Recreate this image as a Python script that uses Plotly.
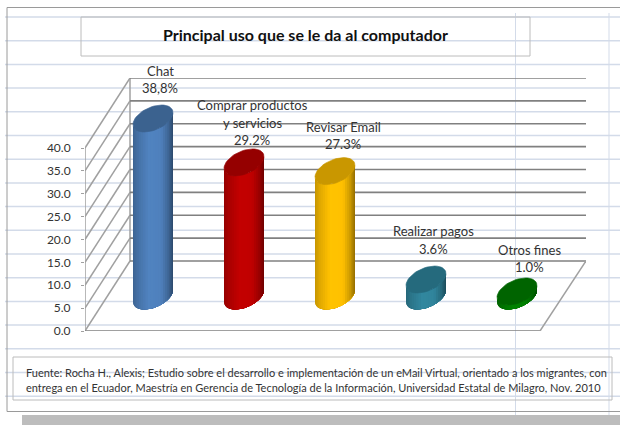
import math
import plotly.graph_objects as go

# ---------- data ----------
categories = ["Chat", "Comprar productos y servicios", "Revisar Email", "Realizar pagos", "Otros fines"]
values = [38.8, 29.2, 27.3, 3.6, 1.0]
value_labels = ["38,8%", "29.2%", "27.3%", "3.6%", "1.0%"]
label_lines = [["Chat"], ["Comprar productos", "y servicios"], ["Revisar Email"], ["Realizar pagos"], ["Otros fines"]]
tick_values = [0, 5, 10, 15, 20, 25, 30, 35, 40]
title_text = "Principal uso que se le da al computador"
source_lines = [
    "Fuente: Rocha H., Alexis; Estudio sobre el desarrollo e implementación de un eMail Virtual, orientado a los migrantes, con",
    "entrega en el Ecuador, Maestría en Gerencia de Tecnología de la Información, Universidad Estatal de Milagro, Nov. 2010",
]

# ---------- styling ----------
side_colors = ["#4f81bd", "#c00000", "#ffc000", "#31859c", "#008000"]
cap_colors = ["#3b628f", "#950000", "#c99700", "#256a7d", "#006400"]
label_dx = [7, 8, 8, 7, 12]            # px offset of the label from the cylinder centre
label_gap = [30, 22, 27, 31, 24]       # px between cylinder top and value label
FONT = "Lato"
W, H = 620, 425
L, R, T, B = 85, 586, 78, 331          # plot area in page pixels
PX_X = 91.0                            # px per category
PX_Y = 183 / 40                        # px per value unit
DX = 45 / PX_X                         # depth vector in axis units
DY = 70 / PX_Y
X_MAX = (R - L) / PX_X
Y_MAX = (B - T) / PX_Y
RAD_X = 18 / PX_X
RAD_D = 0.193                          # cylinder radius, in depth fractions
STRIPS = 24


def fx(px):
    return (px - L) / (R - L)


def fy(py):
    return (B - py) / (B - T)


def shade(hex_color, f):
    r, g, b = (int(hex_color[i:i + 2], 16) for i in (1, 3, 5))
    return "rgb(%d,%d,%d)" % tuple(min(255, int(c * f)) for c in (r, g, b))


def ramp(u):
    pts = [(0, 0.78), (0.12, 0.88), (0.4, 1.02), (0.7, 1.0), (0.88, 0.8), (1, 0.58)]
    for (a, fa), (b, fb) in zip(pts, pts[1:]):
        if u <= b:
            return fa + (fb - fa) * (u - a) / (b - a)
    return pts[-1][1]


fig = go.Figure()
GRID = "#808080"
WALL = "#a0a0a0"


def line(xs, ys, color, width):
    fig.add_trace(go.Scatter(x=xs, y=ys, mode="lines", line=dict(color=color, width=width),
                             hoverinfo="skip", showlegend=False))


# chart walls
line([0, 0], [0, tick_values[-1]], WALL, 1.5)
line([DX, DX], [DY, tick_values[-1] + DY], WALL, 1.5)
for v in tick_values:
    line([0, DX], [v, v + DY], WALL, 1.5)
    line([DX, X_MAX], [v + DY, v + DY], GRID, 1.6)
line([0, len(categories)], [0, 0], GRID, 1.6)
line([len(categories), X_MAX], [0, DY], WALL, 1.5)


# cylinders
def point(cx, base, t):
    x = cx + RAD_X * math.cos(t) + RAD_D * DX * math.sin(t)
    y = base + RAD_D * DY * math.sin(t)
    return x, y


t_star = math.atan2(RAD_D * DX * PX_X, RAD_X * PX_X)
for i, v in enumerate(values):
    cx = i + 0.5 + 0.5 * DX
    base = 0.5 * DY
    half = math.hypot(RAD_X, RAD_D * DX)
    for s in range(STRIPS):
        ts = [t_star + math.pi + math.pi * k / STRIPS for k in range(s, STRIPS + 1)]
        low = [point(cx, base, t) for t in ts]
        up = [point(cx, base + v, t) for t in reversed(ts)]
        poly = low + up + low[:1]
        mid = point(cx, base, t_star + math.pi + math.pi * (s + 0.5) / STRIPS)[0]
        col = shade(side_colors[i], ramp((mid - (cx - half)) / (2 * half)))
        fig.add_trace(go.Scatter(
            x=[p[0] for p in poly], y=[p[1] for p in poly],
            mode="lines", fill="toself", fillcolor=col, line=dict(color=col, width=0),
            hoverinfo="skip", showlegend=False))
    cap = [point(cx, base + v, 2 * math.pi * k / 48) for k in range(49)]
    fig.add_trace(go.Scatter(
        x=[p[0] for p in cap], y=[p[1] for p in cap], mode="lines", fill="toself",
        fillcolor=cap_colors[i], line=dict(color=cap_colors[i], width=0.6),
        hoverinfo="skip", showlegend=False))

# data labels
annotations = []
LINE_H = 17.5
for i, v in enumerate(values):
    cx = i + 0.5 + 0.5 * DX
    y = 0.5 * DY + v
    lines = label_lines[i] + [value_labels[i]]
    n = len(lines)
    for j, txt in enumerate(lines):
        annotations.append(dict(
            x=cx, y=y, xref="x", yref="y", text=txt, showarrow=False,
            xshift=label_dx[i], yshift=label_gap[i] + (n - 1 - j) * LINE_H,
            font=dict(family=FONT, size=13, color="#333333"),
            xanchor="center", yanchor="middle"))

# title and source text
annotations.append(dict(x=fx(305.5), y=fy(34.5), xref="paper", yref="paper", text="<b>%s</b>" % title_text,
                        showarrow=False, font=dict(family=FONT, size=16, color="#111111"),
                        xanchor="center", yanchor="middle"))
for j, txt in enumerate(source_lines):
    annotations.append(dict(x=fx(24), y=fy(372 + j * 15), xref="paper", yref="paper", text=txt,
                            showarrow=False, font=dict(family=FONT, size=11, color="#333333"),
                            xanchor="left", yanchor="middle"))

# spreadsheet backdrop and boxes
SHEET = "#d3dbe9"
shapes = []
for k in range(17):
    py = 17 + 23.7 * k
    shapes.append(dict(type="line", xref="paper", yref="paper", x0=fx(5), x1=fx(620), y0=fy(py), y1=fy(py),
                       line=dict(color=SHEET, width=1.5), layer="below"))
for px in (515.5, 609):
    shapes.append(dict(type="line", xref="paper", yref="paper", x0=fx(px), x1=fx(px), y0=fy(13), y1=fy(423),
                       line=dict(color=SHEET, width=1), layer="below"))
shapes.append(dict(type="rect", xref="paper", yref="paper", x0=fx(22), x1=fx(620), y0=fy(415), y1=fy(425),
                   fillcolor="#bdbdbd", line=dict(width=0), layer="below"))
shapes.append(dict(type="rect", xref="paper", yref="paper", x0=fx(7), x1=fx(640), y0=fy(7.5), y1=fy(411.5),
                   line=dict(color="#9a9a9a", width=1), layer="below"))
for x0, x1, y0, y1 in ((81, 530, 17, 56), (13, 612, 357, 400)):
    shapes.append(dict(type="rect", xref="paper", yref="paper", x0=fx(x0), x1=fx(x1), y0=fy(y0), y1=fy(y1),
                       line=dict(color="#bcbcbc", width=1), layer="below"))

fig.update_layout(
    width=W, height=H, autosize=False,
    margin=dict(l=L, r=W - R, t=T, b=H - B, pad=0),
    paper_bgcolor="white", plot_bgcolor="rgba(0,0,0,0)",
    showlegend=False, annotations=annotations, shapes=shapes,
    xaxis=dict(range=[0, X_MAX], visible=False, fixedrange=True),
    yaxis=dict(range=[0, Y_MAX], tickvals=tick_values, tickformat=".1f", showgrid=False, zeroline=False,
               showline=False, ticks="outside", ticklen=3, tickcolor=WALL, ticklabelstandoff=8,
               tickfont=dict(family=FONT, size=12, color="#333333"), fixedrange=True),
)
fig.write_html("out.html", config=dict(displayModeBar=False),
               post_script="document.body.style.margin='0';document.documentElement.style.overflow='hidden';")
